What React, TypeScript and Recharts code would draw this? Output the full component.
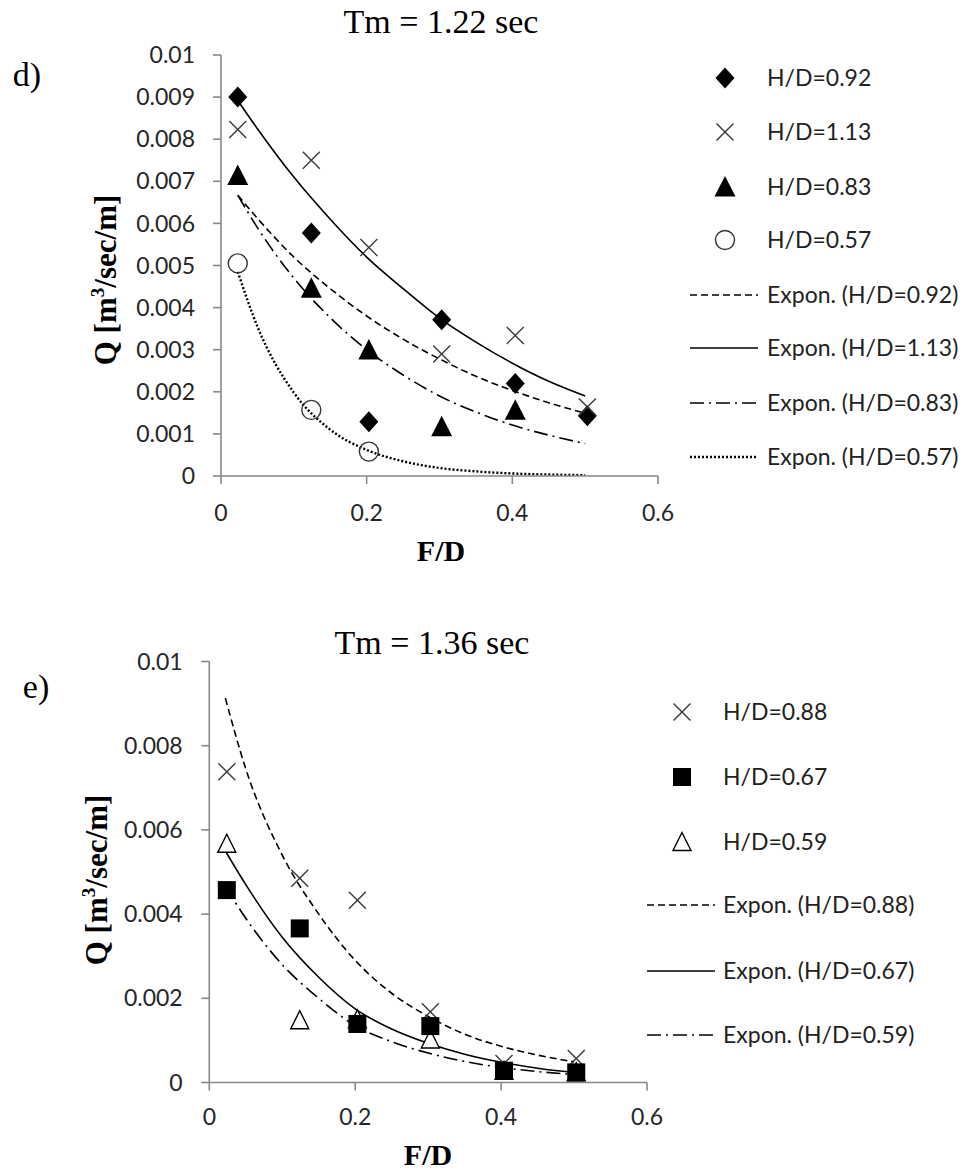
import React from 'react';
import { ComposedChart, Scatter, Line, XAxis, YAxis } from 'recharts';

// ---------- shared axis ticks ----------
const fdTicks = [0, 0.2, 0.4, 0.6];
const qTicksD = [0, 0.001, 0.002, 0.003, 0.004, 0.005, 0.006, 0.007, 0.008, 0.009, 0.01];
const qTicksE = [0, 0.002, 0.004, 0.006, 0.008, 0.01];

// ---------- chart d) Tm = 1.22 sec ----------
const fdD = [0.023, 0.124, 0.203, 0.303, 0.404, 0.503];
const qD092 = [0.009, 0.00577, 0.00129, 0.00371, 0.0022, 0.00143];
const qD113 = [0.00823, 0.0075, 0.00543, 0.0029, 0.00334, 0.00164];
const qD083 = [0.00714, 0.00446, 0.00299, 0.00117, 0.00156];
const qD057 = [0.00505, 0.00157, 0.00058];

const trendFdD = [0.023, 0.05, 0.1, 0.15, 0.2, 0.25, 0.3, 0.35, 0.4, 0.45, 0.5];
const trendD092 = [0.00667, 0.00612, 0.0052, 0.00445, 0.0038, 0.00325, 0.00278, 0.00237, 0.00203, 0.00174, 0.00149];
const trendD113 = [0.00892, 0.00825, 0.0071, 0.0061, 0.0052, 0.00445, 0.00375, 0.00318, 0.00268, 0.00225, 0.0019];
const trendD083 = [0.00667, 0.0059, 0.0047, 0.00376, 0.003, 0.0024, 0.0019, 0.00152, 0.00121, 0.00097, 0.00077];
const trendD057 = [0.00485, 0.00355, 0.00198, 0.0011, 0.00062, 0.00035, 0.00019, 0.00011, 0.00006, 0.000034, 0.000019];

// ---------- chart e) Tm = 1.36 sec ----------
const fdE = [0.024, 0.124, 0.203, 0.303, 0.404, 0.503];
const qE088 = [0.00738, 0.00485, 0.00433, 0.00168, 0.00045, 0.00057];
const qE067 = [0.00457, 0.00366, 0.00139, 0.00134, 0.00028, 0.00024];
const qE059 = [0.00567, 0.00148, 0.0015, 0.00102, 0.00028, 0.00024];

const trendFdE = [0.022, 0.05, 0.1, 0.15, 0.2, 0.25, 0.3, 0.35, 0.4, 0.45, 0.5];
const trendE088 = [0.00913, 0.00745, 0.0054, 0.004, 0.0029, 0.00212, 0.00157, 0.00115, 0.00086, 0.00065, 0.00049];
const trendE067 = [0.0055, 0.0047, 0.00345, 0.0025, 0.00175, 0.00127, 0.00093, 0.00067, 0.00048, 0.00034, 0.00024];
const trendE059 = [0.00465, 0.0039, 0.0028, 0.002, 0.00135, 0.00097, 0.0007, 0.0005, 0.00036, 0.00026, 0.00019];

const pts = (xs: number[], ys: number[]) => ys.map((q, i) => ({ x: xs[i], q }));

// ---------- marker shapes ----------
type M = { cx?: number; cy?: number };
const Diamond = ({ cx = 0, cy = 0 }: M) => (
  <polygon points={`${cx},${cy - 10.5} ${cx + 9.5},${cy} ${cx},${cy + 10.5} ${cx - 9.5},${cy}`} fill="#000" />
);
const Cross = ({ cx = 0, cy = 0 }: M) => (
  <g stroke="#3a3a3a" strokeWidth={1.4}>
    <line x1={cx - 8.5} y1={cy - 8.5} x2={cx + 8.5} y2={cy + 8.5} />
    <line x1={cx - 8.5} y1={cy + 8.5} x2={cx + 8.5} y2={cy - 8.5} />
  </g>
);
const TriFill = ({ cx = 0, cy = 0 }: M) => (
  <polygon points={`${cx},${cy - 11} ${cx + 10.5},${cy + 9.5} ${cx - 10.5},${cy + 9.5}`} fill="#000" />
);
const TriOpen = ({ cx = 0, cy = 0 }: M) => (
  <polygon points={`${cx},${cy - 9.5} ${cx + 9},${cy + 8.5} ${cx - 9},${cy + 8.5}`} fill="#fff" stroke="#000" strokeWidth={1.4} />
);
const CircleOpen = ({ cx = 0, cy = 0 }: M) => (
  <circle cx={cx} cy={cy} r={9.5} fill="none" stroke="#333" strokeWidth={1.4} />
);
const Square = ({ cx = 0, cy = 0 }: M) => <rect x={cx - 9} y={cy - 9} width={18} height={18} fill="#000" />;

const DASHED = '7 4';
const DASHDOT = '14 5 2 5';
const DOTTED = '2 2';

const axisStyle = { stroke: '#888', strokeWidth: 1.6 };
const tickFont = { fontFamily: 'Lato, sans-serif', fontSize: 23, fill: '#262626' };

const serif = '"Liberation Serif", "Times New Roman", serif';

const abs = (left: number, top: number, extra: React.CSSProperties = {}): React.CSSProperties => ({
  position: 'absolute',
  left,
  top,
  transform: 'translate(-50%, -50%)',
  whiteSpace: 'nowrap',
  lineHeight: 1,
  color: '#000',
  ...extra,
});

type LegendItem = { kind: 'marker' | 'line'; shape?: (p: M) => React.ReactElement; dash?: string; width?: number; label: string };

const legendD: LegendItem[] = [
  { kind: 'marker', shape: Diamond, label: 'H/D=0.92' },
  { kind: 'marker', shape: Cross, label: 'H/D=1.13' },
  { kind: 'marker', shape: TriFill, label: 'H/D=0.83' },
  { kind: 'marker', shape: CircleOpen, label: 'H/D=0.57' },
  { kind: 'line', dash: DASHED, label: 'Expon. (H/D=0.92)' },
  { kind: 'line', dash: undefined, label: 'Expon. (H/D=1.13)' },
  { kind: 'line', dash: DASHDOT, label: 'Expon. (H/D=0.83)' },
  { kind: 'line', dash: DOTTED, width: 2.4, label: 'Expon. (H/D=0.57)' },
];
const legendE: LegendItem[] = [
  { kind: 'marker', shape: Cross, label: 'H/D=0.88' },
  { kind: 'marker', shape: Square, label: 'H/D=0.67' },
  { kind: 'marker', shape: TriOpen, label: 'H/D=0.59' },
  { kind: 'line', dash: DASHED, label: 'Expon. (H/D=0.88)' },
  { kind: 'line', dash: undefined, label: 'Expon. (H/D=0.67)' },
  { kind: 'line', dash: DASHDOT, label: 'Expon. (H/D=0.59)' },
];

const Legend = ({ items, markerX, lineX1, lineX2, textX, ys }: { items: LegendItem[]; markerX: number; lineX1: number; lineX2: number; textX: number; ys: number[] }) => (
  <g>
    {items.map((it, i) => {
      const y = ys[i];
      const Shape = it.shape;
      return (
        <g key={i}>
          {it.kind === 'marker' && Shape ? (
            <Shape cx={markerX} cy={y} />
          ) : (
            <line x1={lineX1} y1={y} x2={lineX2} y2={y} stroke="#000" strokeWidth={it.width ?? 1.6} strokeDasharray={it.dash} />
          )}
          <text x={textX} y={y} dy="0.36em" fontFamily="Lato, sans-serif" fontSize={23} fill="#222">
            {it.label}
          </text>
        </g>
      );
    })}
  </g>
);

const trendLine = (xs: number[], ys: number[], dash: string | undefined, key: string, width = 1.6) => (
  <Line
    key={key}
    data={pts(xs, ys)}
    dataKey="q"
    type="monotone"
    stroke="#000"
    strokeWidth={width}
    strokeDasharray={dash}
    dot={false}
    activeDot={false}
    isAnimationActive={false}
    legendType="none"
  />
);

export default function App() {
  return (
    <div style={{ position: 'absolute', left: 0, top: 0, width: 969, height: 1175, background: '#fff', overflow: 'hidden' }}>
      {/* Chart d */}
      <div style={{ position: 'absolute', left: 0, top: 0 }}>
        <ComposedChart width={969} height={600} margin={{ top: 55, right: 311, left: 101, bottom: 64 }}>
          <XAxis
            dataKey="x"
            type="number"
            domain={[0, 0.6]}
            ticks={fdTicks}
            interval={0}
            height={60}
            tick={tickFont}
            tickSize={8}
            tickMargin={21}
            axisLine={axisStyle}
            tickLine={axisStyle}
            allowDataOverflow
          />
          <YAxis
            dataKey="q"
            type="number"
            domain={[0, 0.01]}
            ticks={qTicksD}
            interval={0}
            width={120}
            tick={tickFont}
            tickSize={8}
            tickMargin={18}
            tickFormatter={(v: number) => String(v)}
            axisLine={axisStyle}
            tickLine={axisStyle}
            allowDataOverflow
          />
          {trendLine(trendFdD, trendD092, DASHED, 't092')}
          {trendLine(trendFdD, trendD113, undefined, 't113')}
          {trendLine(trendFdD, trendD083, DASHDOT, 't083')}
          {trendLine(trendFdD, trendD057, DOTTED, 't057', 2.4)}
          <Scatter data={pts(fdD, qD092)} shape={(p: any) => <Diamond cx={p.cx} cy={p.cy} />} isAnimationActive={false} />
          <Scatter data={pts(fdD, qD113)} shape={(p: any) => <Cross cx={p.cx} cy={p.cy} />} isAnimationActive={false} />
          <Scatter data={pts(fdD, qD083)} shape={(p: any) => <TriFill cx={p.cx} cy={p.cy} />} isAnimationActive={false} />
          <Scatter data={pts(fdD, qD057)} shape={(p: any) => <CircleOpen cx={p.cx} cy={p.cy} />} isAnimationActive={false} />
        </ComposedChart>
      </div>

      {/* Chart e */}
      <div style={{ position: 'absolute', left: 0, top: 600 }}>
        <ComposedChart width={969} height={575} margin={{ top: 61.5, right: 322, left: 89.3, bottom: 32.5 }}>
          <XAxis
            dataKey="x"
            type="number"
            domain={[0, 0.6]}
            ticks={fdTicks}
            interval={0}
            height={60}
            tick={tickFont}
            tickSize={8}
            tickMargin={18}
            axisLine={axisStyle}
            tickLine={axisStyle}
            allowDataOverflow
          />
          <YAxis
            dataKey="q"
            type="number"
            domain={[0, 0.01]}
            ticks={qTicksE}
            interval={0}
            width={120}
            tick={tickFont}
            tickSize={8}
            tickMargin={18.6}
            tickFormatter={(v: number) => String(v)}
            axisLine={axisStyle}
            tickLine={axisStyle}
            allowDataOverflow
          />
          {trendLine(trendFdE, trendE088, DASHED, 'e088')}
          {trendLine(trendFdE, trendE067, undefined, 'e067')}
          {trendLine(trendFdE, trendE059, DASHDOT, 'e059')}
          <Scatter data={pts(fdE, qE059)} shape={(p: any) => <TriOpen cx={p.cx} cy={p.cy} />} isAnimationActive={false} />
          <Scatter data={pts(fdE, qE088)} shape={(p: any) => <Cross cx={p.cx} cy={p.cy} />} isAnimationActive={false} />
          <Scatter data={pts(fdE, qE067)} shape={(p: any) => <Square cx={p.cx} cy={p.cy} />} isAnimationActive={false} />
        </ComposedChart>
      </div>

      {/* Legends */}
      <svg width={969} height={1175} style={{ position: 'absolute', left: 0, top: 0, pointerEvents: 'none' }}>
        <Legend items={legendD} markerX={725} lineX1={690} lineX2={758} textX={767} ys={[78, 132, 187, 240, 295, 348, 403, 457]} />
        <Legend items={legendE} markerX={682} lineX1={647} lineX2={715} textX={723} ys={[712, 777, 842, 905, 971, 1035]} />
      </svg>

      {/* Titles and labels */}
      <div style={abs(441, 22, { fontFamily: serif, fontSize: 34 })}>Tm = 1.22 sec</div>
      <div style={abs(27, 75, { fontFamily: serif, fontSize: 34 })}>d)</div>
      <div style={abs(105, 280, { fontFamily: serif, fontSize: 31, fontWeight: 700, transform: 'translate(-50%, -50%) rotate(-90deg)' })}>
        Q [m<sup style={{ fontSize: '0.62em', verticalAlign: 'super', lineHeight: 0 }}>3</sup>/sec/m]
      </div>
      <div style={abs(441, 551, { fontFamily: serif, fontSize: 30, fontWeight: 700 })}>F/D</div>

      <div style={abs(432, 643, { fontFamily: serif, fontSize: 34 })}>Tm = 1.36 sec</div>
      <div style={abs(36, 687, { fontFamily: serif, fontSize: 34 })}>e)</div>
      <div style={abs(96, 880, { fontFamily: serif, fontSize: 31, fontWeight: 700, transform: 'translate(-50%, -50%) rotate(-90deg)' })}>
        Q [m<sup style={{ fontSize: '0.62em', verticalAlign: 'super', lineHeight: 0 }}>3</sup>/sec/m]
      </div>
      <div style={abs(428, 1155, { fontFamily: serif, fontSize: 30, fontWeight: 700 })}>F/D</div>
    </div>
  );
}
